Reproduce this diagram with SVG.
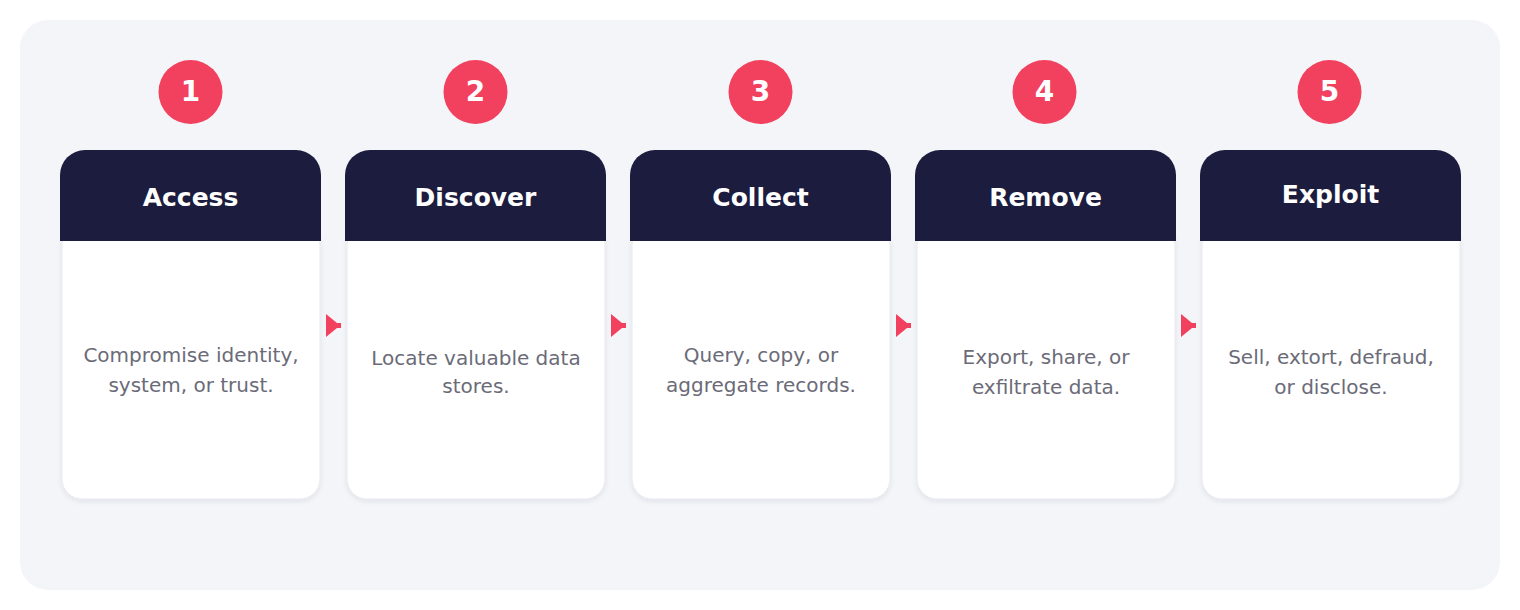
<svg xmlns="http://www.w3.org/2000/svg" width="1520" height="610" viewBox="0 0 1520 610">
<defs>
<filter id="sh" x="-10%" y="-10%" width="120%" height="125%">
<feDropShadow dx="0" dy="2" stdDeviation="2.5" flood-color="#1c1c3e" flood-opacity="0.08"/>
</filter>
<style>
.panel{fill:#f4f5f9}
.body{fill:#ffffff;stroke:#e8e9ef;stroke-width:1}
.head{fill:#1c1c3e}
.badge{fill:#f2405f}
.num{font-family:"DejaVu Sans",sans-serif;font-weight:bold;font-size:28px;fill:#ffffff;text-anchor:middle}
.title{font-family:"DejaVu Sans",sans-serif;font-weight:bold;font-size:25px;fill:#ffffff;text-anchor:middle}
.desc{font-family:"DejaVu Sans",sans-serif;font-size:20px;fill:#6b6b78;text-anchor:middle}
.arr{fill:#f2405f}
</style>
</defs>
<rect width="1520" height="610" fill="#ffffff"/>
<rect class="panel" x="20" y="20" width="1480" height="570" rx="28"/>

<g id="step1">
<circle class="badge" cx="190.5" cy="92" r="32"/>
<text class="num" x="190.5" y="101">1</text>
<rect class="body" x="62" y="225" width="258" height="274" rx="20" filter="url(#sh)"/>
<path class="head" d="M60,241 V175 A25,25 0 0 1 85,150 H296 A25,25 0 0 1 321,175 V241 Z"/>
<text class="title" x="190.5" y="206">Access</text>
<text class="desc" x="191" y="362">Compromise identity,</text>
<text class="desc" x="191" y="392">system, or trust.</text>
</g>

<g id="step2">
<circle class="badge" cx="475.5" cy="92" r="32"/>
<text class="num" x="475.5" y="101">2</text>
<rect class="body" x="347" y="225" width="258" height="274" rx="20" filter="url(#sh)"/>
<path class="head" d="M345,241 V175 A25,25 0 0 1 370,150 H581 A25,25 0 0 1 606,175 V241 Z"/>
<text class="title" x="475.5" y="206">Discover</text>
<text class="desc" x="476" y="365">Locate valuable data</text>
<text class="desc" x="476" y="393">stores.</text>
</g>

<g id="step3">
<circle class="badge" cx="760.5" cy="92" r="32"/>
<text class="num" x="760.5" y="101">3</text>
<rect class="body" x="632" y="225" width="258" height="274" rx="20" filter="url(#sh)"/>
<path class="head" d="M630,241 V175 A25,25 0 0 1 655,150 H866 A25,25 0 0 1 891,175 V241 Z"/>
<text class="title" x="760.5" y="206">Collect</text>
<text class="desc" x="761" y="362">Query, copy, or</text>
<text class="desc" x="761" y="392">aggregate records.</text>
</g>

<g id="step4">
<circle class="badge" cx="1044.5" cy="92" r="32"/>
<text class="num" x="1044.5" y="101">4</text>
<rect class="body" x="917" y="225" width="258" height="274" rx="20" filter="url(#sh)"/>
<path class="head" d="M915,241 V175 A25,25 0 0 1 940,150 H1151 A25,25 0 0 1 1176,175 V241 Z"/>
<text class="title" x="1045.5" y="206">Remove</text>
<text class="desc" x="1046" y="364">Export, share, or</text>
<text class="desc" x="1046" y="394">exfiltrate data.</text>
</g>

<g id="step5">
<circle class="badge" cx="1329.5" cy="92" r="32"/>
<text class="num" x="1329.5" y="101">5</text>
<rect class="body" x="1202" y="225" width="258" height="274" rx="20" filter="url(#sh)"/>
<path class="head" d="M1200,241 V175 A25,25 0 0 1 1225,150 H1436 A25,25 0 0 1 1461,175 V241 Z"/>
<text class="title" x="1330.5" y="203">Exploit</text>
<text class="desc" x="1331" y="364">Sell, extort, defraud,</text>
<text class="desc" x="1331" y="394">or disclose.</text>
</g>

<g id="connectors">
<path class="arr" d="M326,314 L337,323 H341 V328 H337 L326,337 Z"/>
<path class="arr" d="M611,314 L622,323 H626 V328 H622 L611,337 Z"/>
<path class="arr" d="M896,314 L907,323 H911 V328 H907 L896,337 Z"/>
<path class="arr" d="M1181,314 L1192,323 H1196 V328 H1192 L1181,337 Z"/>
</g>
</svg>
